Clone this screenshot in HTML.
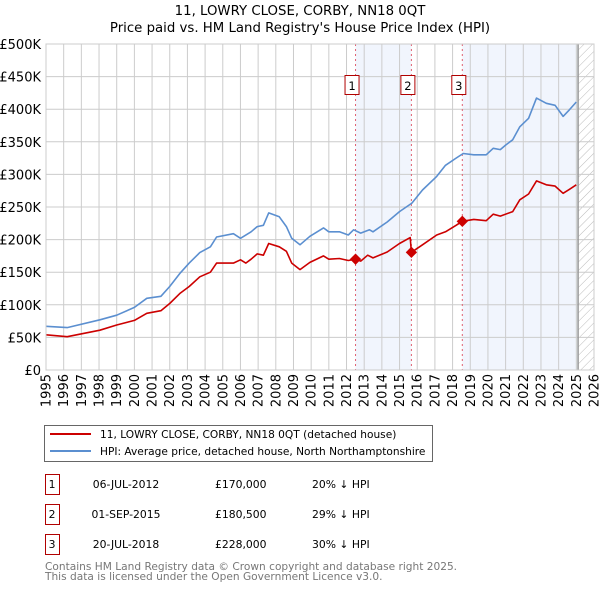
<!DOCTYPE html>
<html><head><meta charset="utf-8"><style>
body{margin:0;background:#fff;font-family:"Liberation Sans","DejaVu Sans",sans-serif;}
svg text{font-family:"DejaVu Sans","Liberation Sans",sans-serif;}
</style></head><body>
<svg id="c" width="600" height="590" xmlns="http://www.w3.org/2000/svg">
<defs><pattern id="hatch" width="6" height="6" patternUnits="userSpaceOnUse" patternTransform="rotate(45)"><line x1="0" y1="0" x2="0" y2="6" stroke="#bbb" stroke-width="1"/></pattern></defs>
<text x="300" y="15" text-anchor="middle" font-size="13.3" fill="#000">11, LOWRY CLOSE, CORBY, NN18 0QT</text>
<text x="300" y="32" text-anchor="middle" font-size="13.3" fill="#000">Price paid vs. HM Land Registry's House Price Index (HPI)</text>
<g id="plot"></g>
<g>
<rect x="44.5" y="425.5" width="388" height="36" fill="#fff" stroke="#666"/>
<line x1="50" y1="434" x2="91" y2="434" stroke="#cc0000" stroke-width="2"/>
<text x="100" y="438" font-size="10.6">11, LOWRY CLOSE, CORBY, NN18 0QT (detached house)</text>
<line x1="50" y1="451" x2="91" y2="451" stroke="#5b8fd0" stroke-width="2"/>
<text x="100" y="455" font-size="10.6">HPI: Average price, detached house, North Northamptonshire</text>
</g>
<g id="table" font-size="10.8"></g>
<text x="45" y="570" font-size="10.6" fill="#777">Contains HM Land Registry data © Crown copyright and database right 2025.</text>
<text x="45" y="580" font-size="10.6" fill="#777">This data is licensed under the Open Government Licence v3.0.</text>
</svg>
<script>
const hpiYears=[1995,1996.2,1998.05,1999,2000,2000.7,2001.5,2002,2002.6,2003.1,2003.7,2004.3,2004.65,2005.6,2006,2006.6,2006.95,2007.3,2007.6,2008.2,2008.6,2008.9,2009.37,2009.93,2010.7,2011,2011.6,2012.1,2012.4,2012.8,2013.3,2013.5,2014.3,2015,2015.7,2016.3,2017.1,2017.6,2018.2,2018.6,2019.2,2019.9,2020.3,2020.7,2021,2021.4,2021.8,2022.3,2022.75,2023.3,2023.8,2024.25,2024.6,2025];
const hpiValues=[67,65,77,84,96,110,113,128,149,164,180,189,204,209,202,212,220,222,241,235,220,202,192,205,218,212,212,207,215,210,215,212,227,243,256,276,297,314,325,332,330,330,340,338,345,353,373,386,417,409,406,389,399,411];
const propYears=[1995,1996.2,1998.05,1999,2000,2000.7,2001.5,2002,2002.6,2003.1,2003.7,2004.3,2004.65,2005.6,2006,2006.3,2006.6,2006.95,2007.3,2007.6,2008.2,2008.6,2008.9,2009.37,2009.93,2010.7,2011,2011.6,2012.1,2012.51,2012.8,2013.2,2013.5,2014.3,2015,2015.6,2015.67,2016.3,2017.1,2017.6,2018.2,2018.55,2019.2,2019.9,2020.3,2020.7,2021.4,2021.8,2022.3,2022.75,2023.3,2023.8,2024.25,2024.6,2025];
const propValues=[54,51,61,69,76,87,91,102,118,128,143,150,164,164,169,164,170,178,176,194,189,182,164,154,165,175,170,171,168,170,167,176,172,181,194,203,180.5,192,207,212,222,228,231,229,239,236,243,261,270,290,284,282,271,277,284];
const saleLabels=["1","2","3"];
const saleYears=[2012.51,2015.67,2018.55];
const saleValues=[170,180.5,228];
const saleDates=["06-JUL-2012","01-SEP-2015","20-JUL-2018"];
const salePrices=["£170,000","£180,500","£228,000"];
const saleDiffs=["20% ↓ HPI","29% ↓ HPI","30% ↓ HPI"];
const yTicks=[0,50,100,150,200,250,300,350,400,450,500];
const yTickLabels=["£0","£50K","£100K","£150K","£200K","£250K","£300K","£350K","£400K","£450K","£500K"];
const xStart=1995,xEnd=2026,dataEnd=2025.1;

const L=46,R=594,T=44,B=370,NS="http://www.w3.org/2000/svg";
const X=y=>L+(y-xStart)/(xEnd-xStart)*(R-L);
const Y=v=>B-v/500*(B-T);
const plot=document.getElementById('plot');
function mk(tag,attrs,parent){const e=document.createElementNS(NS,tag);for(const k in attrs)e.setAttribute(k,attrs[k]);(parent||plot).appendChild(e);return e;}
let s=mk('rect',{x:X(saleYears[0]),y:T,width:X(saleYears[1])-X(saleYears[0]),height:B-T,fill:'#eef3fc',opacity:0.8});


s=mk('rect',{x:X(saleYears[2]),y:T,width:X(dataEnd)-X(saleYears[2]),height:B-T,fill:'#eef3fc',opacity:0.8});


s=mk('rect',{x:X(dataEnd),y:T,width:R-X(dataEnd),height:B-T,fill:'url(#hatch)'});


for(let yr=xStart;yr<=xEnd;yr++){
  const g=mk('line',{x1:X(yr),x2:X(yr),y1:T,y2:B,stroke:'#ccc','stroke-width':1});
  
  
  const t=mk('text',{x:0,y:0,'font-size':13,'text-anchor':'end',transform:`translate(${X(yr)+4.5},${B+4}) rotate(-90)`});
  t.textContent=yr;
  
  
}
yTicks.forEach((v,i)=>{
  const g=mk('line',{x1:L,x2:R,y1:Y(v),y2:Y(v),stroke:'#ccc','stroke-width':1});
  
  
  const t=mk('text',{x:41,y:Y(v)+5,'font-size':13,'text-anchor':'end'});
  t.textContent=yTickLabels[i];
  
  
});
let ln=mk('line',{x1:X(dataEnd),x2:X(dataEnd),y1:T,y2:B,stroke:'#999','stroke-width':1.5});


saleYears.forEach((yr,i)=>{
  const l=mk('line',{x1:X(yr),x2:X(yr),y1:T,y2:B,stroke:'#e06070','stroke-width':1,'stroke-dasharray':'2,3'});
  
  
  const r=mk('rect',{x:X(yr)-10.5,y:75.5,width:14,height:19,fill:'#fff',stroke:'#b00000'});
  
  
  const t=mk('text',{x:X(yr)-3.5,y:90,'font-size':11.5,'text-anchor':'middle'});
  t.textContent=saleLabels[i];
  
  
});
function path(xs,vs,col,name){
  const d=xs.map((x,i)=>(i?'L':'M')+X(x).toFixed(1)+','+Y(vs[i]).toFixed(1)).join('');
  const p=mk('path',{d:d,fill:'none',stroke:col,'stroke-width':1.6,'stroke-linejoin':'round'});
  
  
}
path(hpiYears,hpiValues,'#5b8fd0','hpi-line');
path(propYears,propValues,'#cc0000','property-line');
saleYears.forEach((yr,i)=>{
  const c=mk('rect',{x:X(yr)-4,y:Y(saleValues[i])-4,width:8,height:8,fill:'#cc0000',transform:`rotate(45 ${X(yr)} ${Y(saleValues[i])})`});
  
  
});
let ax=mk('rect',{x:L,y:T,width:R-L,height:B-T,fill:'none',stroke:'#ccc'});


const tb=document.getElementById('table');
const rowY=[483,513,543];
saleLabels.forEach((lab,i)=>{
  const r=mk('rect',{x:45.5,y:rowY[i]-8.5,width:14,height:20,fill:'#fff',stroke:'#b00000'},tb);
  
  
  const vals=[[52,lab,'middle'],[126,saleDates[i],'middle'],[215,salePrices[i],'start'],[312,saleDiffs[i],'start']];
  const names=['table-row-number','table-sale-date','table-sale-price','table-hpi-diff'];
  vals.forEach((v,j)=>{
    const t=mk('text',{x:v[0],y:rowY[i]+5,'text-anchor':v[2]},tb);
    t.textContent=v[1];
    
    
  });
});
</script>
</body></html>
